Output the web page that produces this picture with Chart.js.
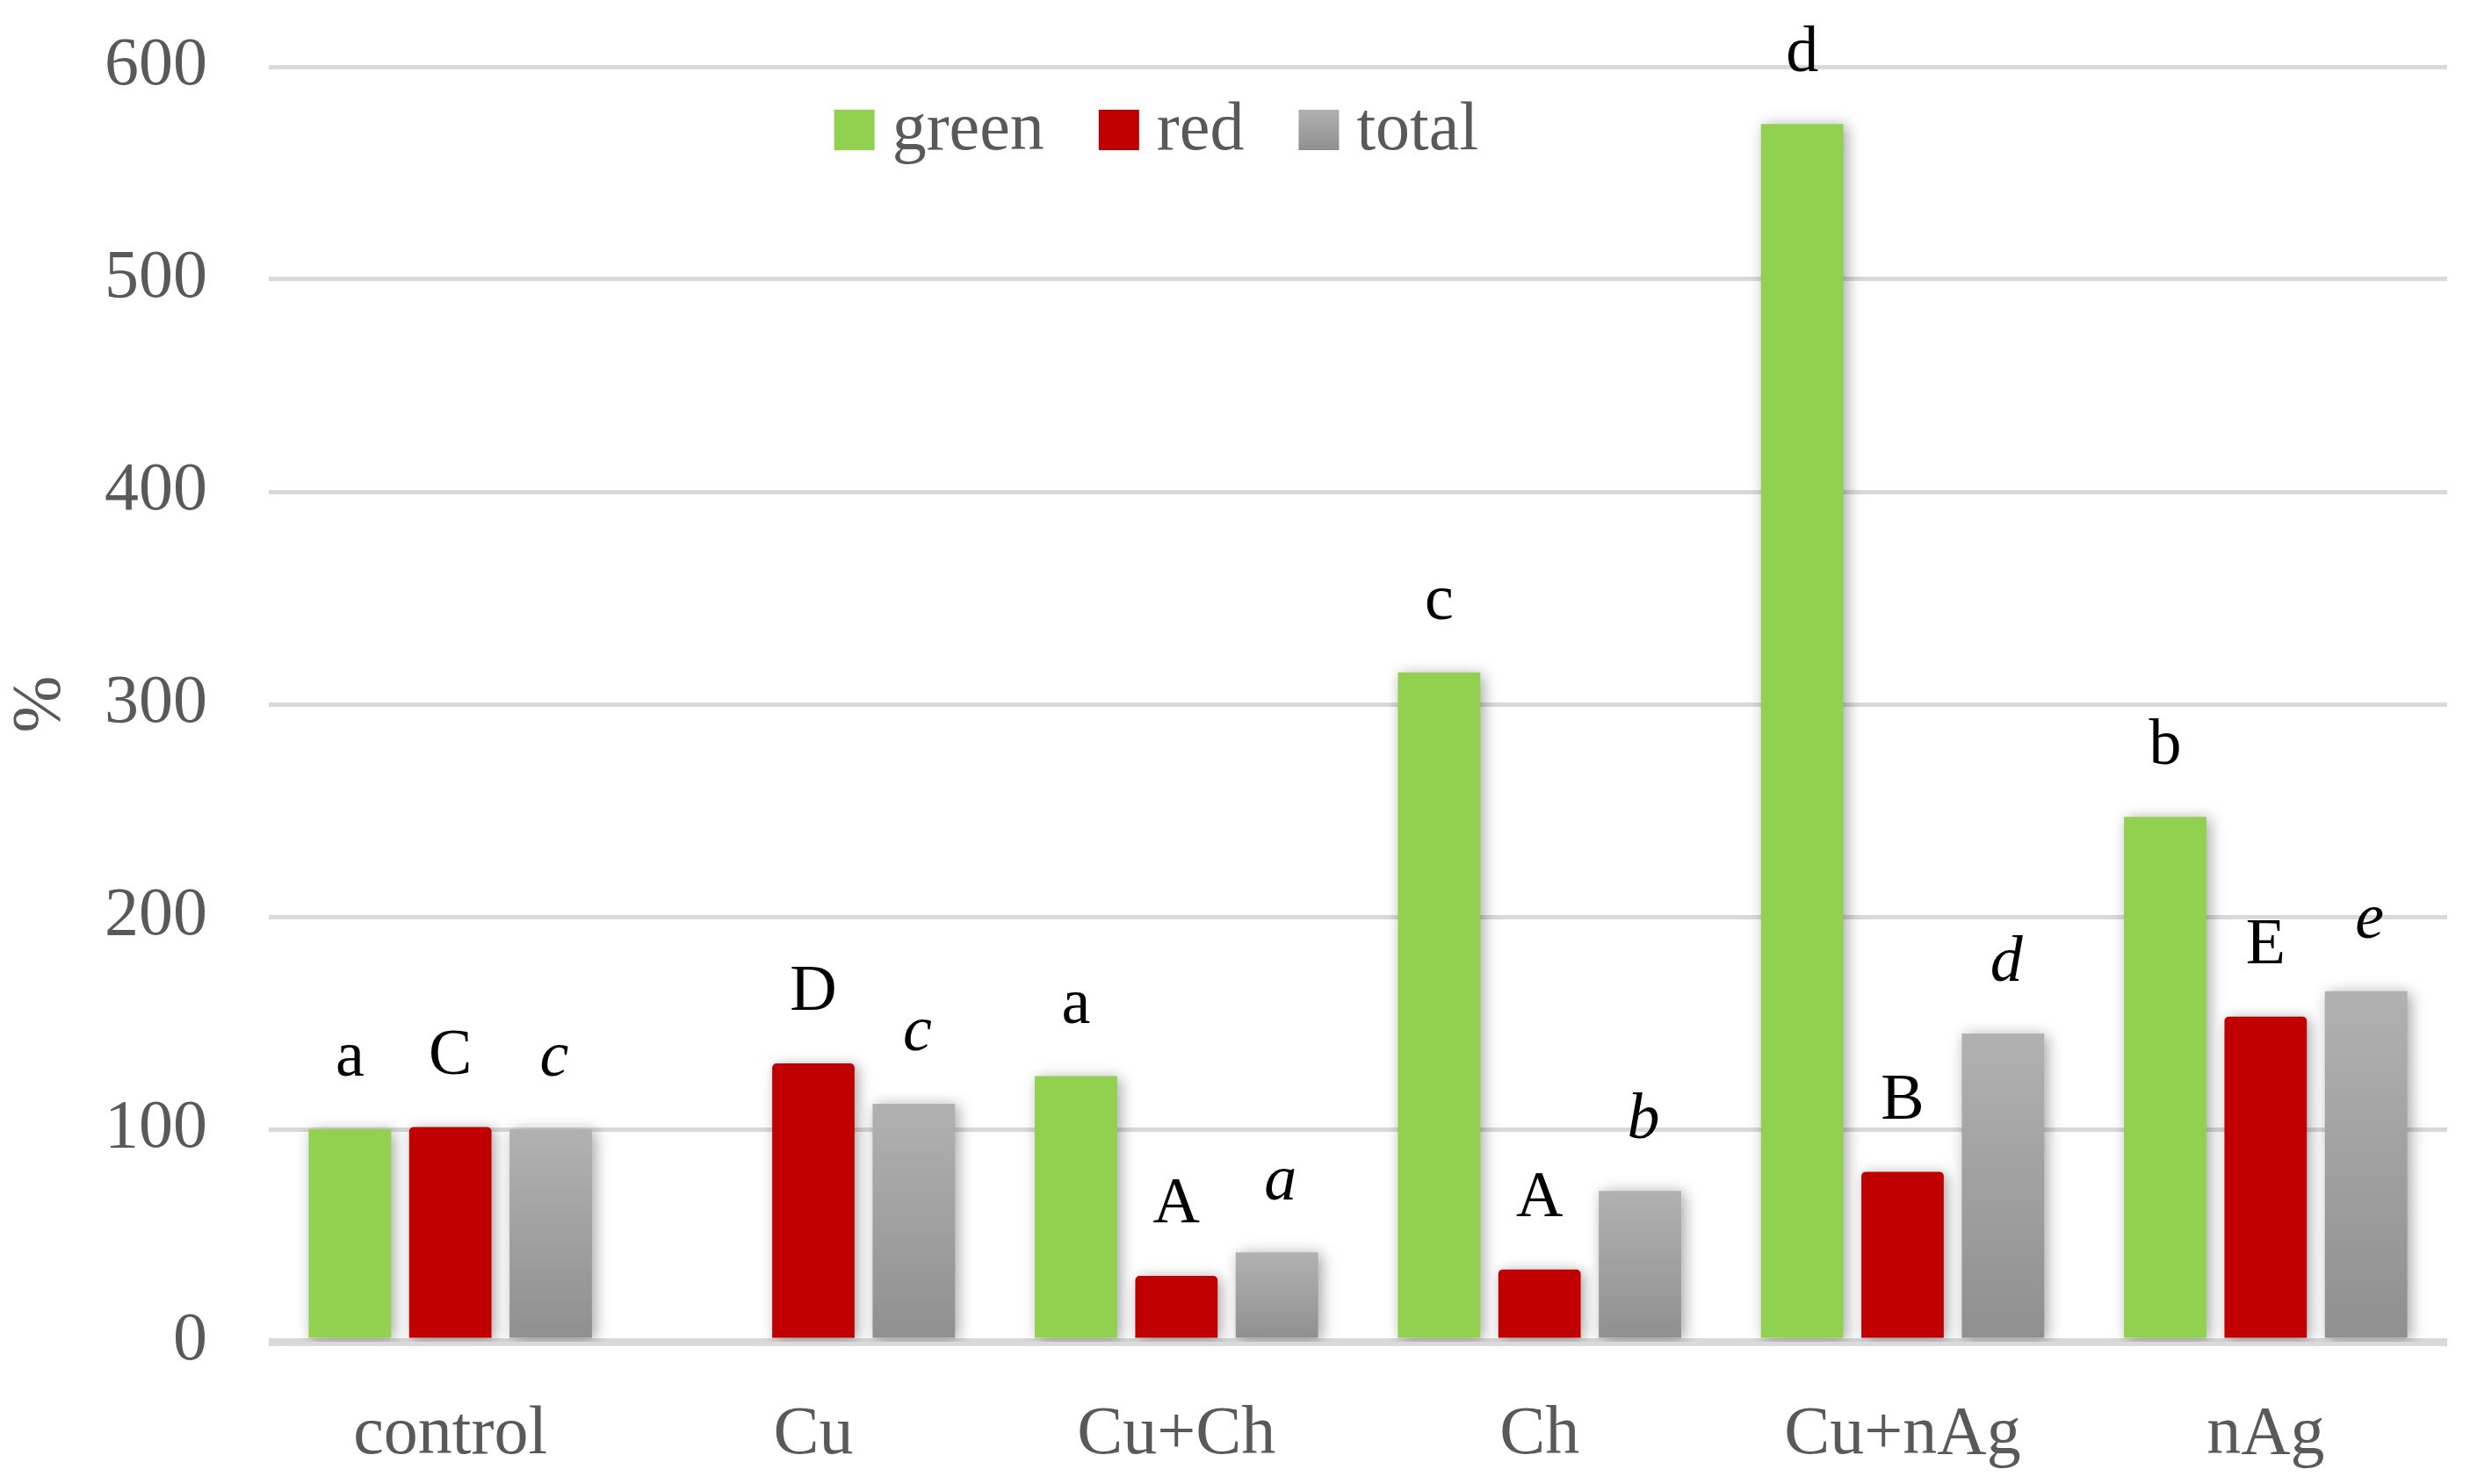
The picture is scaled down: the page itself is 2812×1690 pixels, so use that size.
<!DOCTYPE html>
<html>
<head>
<meta charset="utf-8">
<script src="https://cdn.jsdelivr.net/npm/chart.js@4"></script>
<style>
  html, body { margin: 0; padding: 0; background: #fff; }
  canvas { display: block; }
</style>
</head>
<body>
<canvas id="chart" width="2812" height="1690"></canvas>
<script>
const categories = ["control", "Cu", "Cu+Ch", "Ch", "Cu+nAg", "nAg"];
const greenValues = [100, null, 125, 315, 573, 247];
const redValues = [101, 131, 31, 34, 80, 153];
const totalValues = [100, 112, 42, 71, 145, 165];

// significance letters above each bar
const greenLetters = ["a", "", "a", "c", "d", "b"];
const redLetters = ["C", "D", "A", "A", "B", "E"];
const totalLetters = ["c", "c", "a", "b", "d", "e"];

const yTicks = [0, 100, 200, 300, 400, 500, 600];

const FONT = "'Palatino Linotype', 'Book Antiqua', Palatino, 'Liberation Serif', serif";
const GREY_TEXT = "#595959";

function greyGradient(c, top, bottom) {
  const g = c.createLinearGradient(0, top, 0, bottom);
  g.addColorStop(0, "#b1b1b1");
  g.addColorStop(1, "#8f8f8f");
  return g;
}

function totalFill(ctx) {
  const chart = ctx.chart;
  if (!chart.chartArea || ctx.type !== "data" || ctx.parsed == null) return "#a0a0a0";
  const y = chart.scales.y;
  return greyGradient(chart.ctx, y.getPixelForValue(ctx.parsed.y), y.getPixelForValue(0));
}

const lettersByDataset = [greenLetters, redLetters, totalLetters];

const barDecor = {
  id: "barDecor",
  beforeDatasetsDraw(chart) {
    const c = chart.ctx;
    c.save();
    c.shadowColor = "rgba(0,0,0,0.35)";
    c.shadowBlur = 16;
    c.shadowOffsetX = 4;
    c.shadowOffsetY = 2;
  },
  afterDatasetsDraw(chart) {
    const c = chart.ctx;
    c.restore();
    c.save();
    c.fillStyle = "#000";
    c.textAlign = "center";
    c.textBaseline = "middle";
    chart.data.datasets.forEach((ds, i) => {
      const meta = chart.getDatasetMeta(i);
      c.font = (i === 2 ? "italic " : "") + "74px " + FONT;
      meta.data.forEach((bar, j) => {
        const txt = lettersByDataset[i][j];
        if (!txt || ds.data[j] == null) return;
        c.fillText(txt, bar.x + (i === 2 ? 4 : 0), bar.y - 80);
      });
    });
    c.restore();
  },
  afterDraw(chart) {
    // legend drawn inside the plot area, as in the original
    const c = chart.ctx;
    const area = chart.chartArea;
    const box = 46, gapText = 20, gapItem = 62;
    c.save();
    c.font = "78px " + FONT;
    c.textBaseline = "middle";
    const items = chart.data.datasets.map(ds => ({ label: ds.label, w: c.measureText(ds.label).width }));
    const total = items.reduce((s, it) => s + box + gapText + it.w, 0) + gapItem * (items.length - 1);
    const cx = area.left + 0.4074 * (area.right - area.left);
    const cy = area.top + 72;
    let x = cx - total / 2;
    items.forEach((it, i) => {
      const fill = i === 2 ? greyGradient(c, cy - box / 2, cy + box / 2) : chart.data.datasets[i].legendColor;
      c.fillStyle = fill;
      c.fillRect(x, cy - box / 2, box, box);
      x += box + gapText;
      c.fillStyle = GREY_TEXT;
      c.fillText(it.label, x, cy + 2);
      x += it.w + gapItem;
    });
    c.restore();
  }
};

new Chart(document.getElementById("chart"), {
  type: "bar",
  data: {
    labels: categories,
    datasets: [
      { label: "green", data: greenValues, backgroundColor: "#92d050", legendColor: "#92d050" },
      { label: "red", data: redValues, backgroundColor: "#c00000", legendColor: "#c00000",
        borderRadius: { topLeft: 5, topRight: 5 }, borderSkipped: false },
      { label: "total", data: totalValues, backgroundColor: totalFill }
    ]
  },
  options: {
    responsive: false,
    animation: false,
    devicePixelRatio: 1,
    layout: { padding: { top: 76, right: 26, bottom: 0, left: 0 } },
    datasets: {
      bar: { categoryPercentage: 0.83, barPercentage: 0.82 }
    },
    plugins: {
      legend: { display: false },
      tooltip: { enabled: false }
    },
    scales: {
      x: {
        grid: { display: false },
        border: { display: false },
        ticks: { color: GREY_TEXT, font: { family: FONT, size: 78 }, padding: 52 },
        afterFit(s) { s.height = 162; }
      },
      y: {
        min: 0,
        max: 600,
        afterBuildTicks(s) { s.ticks = yTicks.map(v => ({ value: v })); },
        ticks: { color: GREY_TEXT, font: { family: FONT, size: 78 }, padding: 70 },
        grid: {
          color: "#d9d9d9",
          lineWidth: ctx => (ctx.tick && ctx.tick.value === 0 ? 9 : 5),
          drawTicks: false
        },
        border: { display: false },
        title: { display: true, text: "%", color: GREY_TEXT, font: { family: FONT, size: 78 }, padding: 0 },
        afterFit(s) {
          s.width = 306;
          s.paddingTop = 0;
          s.paddingBottom = 0;
        }
      }
    }
  },
  plugins: [barDecor]
});
</script>
</body>
</html>
